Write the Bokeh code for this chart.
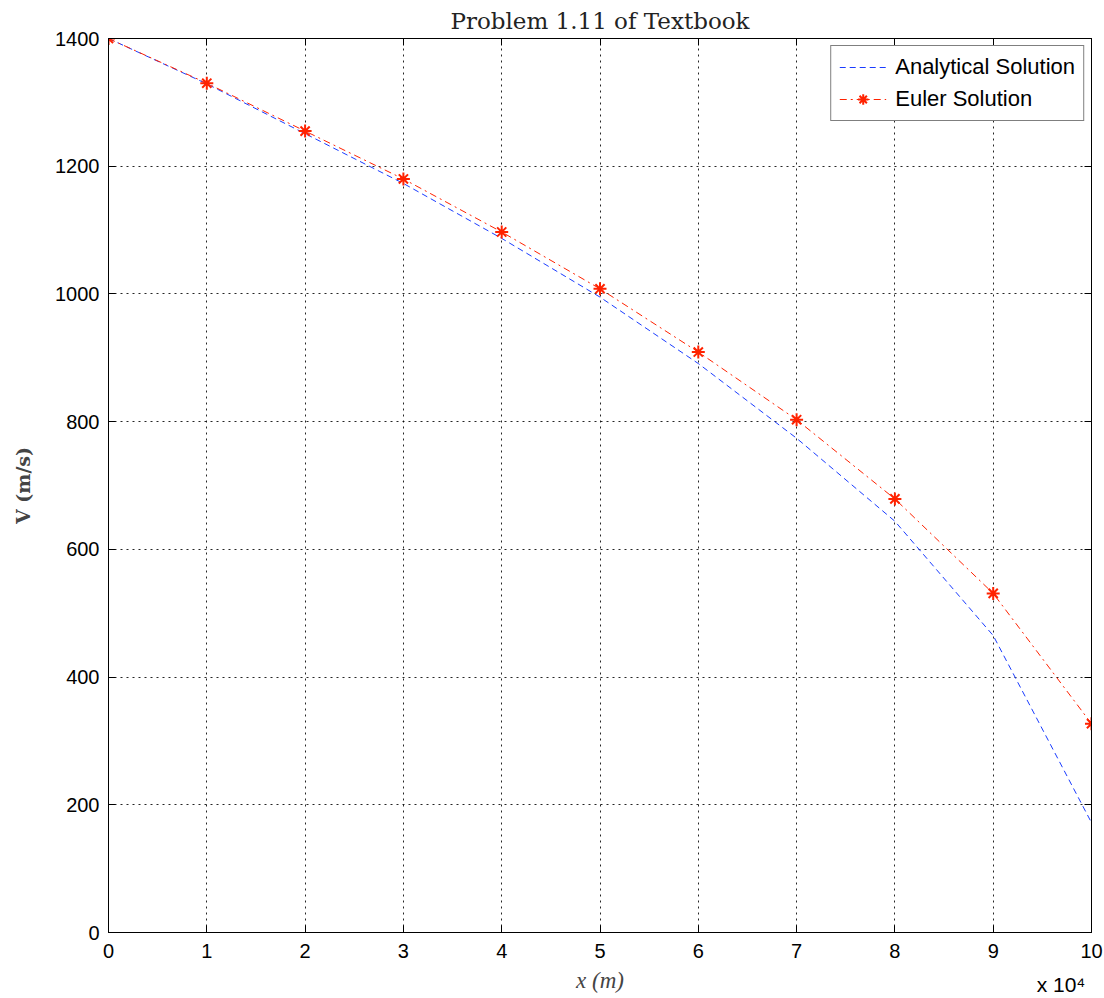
from bokeh.plotting import figure
from bokeh.models import (LinearAxis, Legend, LegendItem, FixedTicker,
                          CustomJSTickFormatter, Range1d)
from bokeh.embed import file_html
from bokeh.resources import INLINE

# ---- data ----
x_m = [0, 10000, 20000, 30000, 40000, 50000, 60000, 70000, 80000, 90000, 100000]
v_analytical = [1400, 1329, 1251, 1173, 1087, 995, 891, 774, 644, 465, 172]
v_euler = [1400, 1330, 1255, 1180, 1097, 1008, 909, 803, 679, 531, 327]
x_ticks = [0, 10000, 20000, 30000, 40000, 50000, 60000, 70000, 80000, 90000, 100000]
y_ticks = [0, 200, 400, 600, 800, 1000, 1200, 1400]
multiplier_text = "x 10\u2074"
multiplier_at = [96900]

TICK_FONT = "Liberation Sans"
SERIF = "DejaVu Serif"

p = figure(frame_width=983, frame_height=894,
           x_range=Range1d(0, 100000), y_range=Range1d(0, 1400),
           output_backend="svg", toolbar_location=None,
           min_border_left=108, min_border_right=12, min_border_top=38,
           min_border_bottom=66,
           title="Problem 1.11 of Textbook")
p.background_fill_color = "white"
p.border_fill_color = "white"
p.outline_line_color = "black"
p.outline_line_width = 1

p.title.align = "center"
p.title.text_font = SERIF
p.title.text_font_size = "23px"
p.title.text_font_style = "normal"
p.title.text_color = "#222222"

fmt = CustomJSTickFormatter(code="return (tick/1e4).toFixed(0);")

def style_axis(ax, show_labels=True):
    ax.major_tick_in = 7
    ax.major_tick_out = 0
    ax.minor_tick_line_color = None
    ax.axis_line_color = "black"
    ax.major_tick_line_color = "black"
    ax.major_label_text_font = TICK_FONT
    if show_labels:
        ax.major_label_text_font_size = "20px"
        ax.major_label_text_color = "black"
    else:
        ax.major_label_text_font_size = "1px"
        ax.major_label_text_color = None
        ax.major_label_standoff = 0

p.xaxis.ticker = FixedTicker(ticks=x_ticks)
p.xaxis.formatter = fmt
p.yaxis.ticker = FixedTicker(ticks=y_ticks)
style_axis(p.xaxis[0])
style_axis(p.yaxis[0])
p.xaxis.major_label_standoff = 11
p.yaxis.major_label_standoff = 9

p.yaxis.axis_label = "V (m/s)"
p.yaxis.axis_label_text_font = SERIF
p.yaxis.axis_label_text_font_style = "bold"
p.yaxis.axis_label_text_font_size = "19px"
p.yaxis.axis_label_standoff = 18

# second bottom axis: carries the "x 10^4" multiplier and the x label
mult_ax = LinearAxis(ticker=FixedTicker(ticks=multiplier_at),
                     major_label_overrides={multiplier_at[0]: multiplier_text})
mult_ax.axis_line_color = None
mult_ax.major_tick_line_color = None
mult_ax.minor_tick_line_color = None
mult_ax.major_tick_in = 0
mult_ax.major_tick_out = 0
mult_ax.major_label_standoff = 12
mult_ax.major_label_text_font = TICK_FONT
mult_ax.major_label_text_font_size = "21px"
mult_ax.major_label_text_color = "black"
mult_ax.axis_label = "x (m)"
mult_ax.axis_label_text_font = "Liberation Serif"
mult_ax.axis_label_text_font_style = "italic"
mult_ax.axis_label_text_font_size = "23px"
mult_ax.axis_label_standoff = -31
p.add_layout(mult_ax, "below")

top_ax = LinearAxis(ticker=FixedTicker(ticks=x_ticks))
style_axis(top_ax, show_labels=False)
p.add_layout(top_ax, "above")
right_ax = LinearAxis(ticker=FixedTicker(ticks=y_ticks))
style_axis(right_ax, show_labels=False)
p.add_layout(right_ax, "right")

p.xgrid.ticker = FixedTicker(ticks=x_ticks)
p.ygrid.ticker = FixedTicker(ticks=y_ticks)
for g in (p.xgrid[0], p.ygrid[0]):
    g.grid_line_color = "black"
    g.grid_line_dash = "2 4"
    g.grid_line_width = 1
    g.grid_line_alpha = 0.85

blue = p.line(x_m, v_analytical, line_color="#1a3cff", line_width=1,
              line_dash="6 4")
red = p.line(x_m, v_euler, line_color="#ff2200", line_width=1,
             line_dash="7 4 2 4")
stars = p.scatter(x_m, v_euler, marker="asterisk", size=13,
                  line_color="#ff2200", line_width=2)

legend = Legend(items=[
    LegendItem(label="Analytical Solution", renderers=[blue]),
    LegendItem(label="Euler Solution", renderers=[red, stars]),
], location="top_right")
legend.label_text_font = TICK_FONT
legend.label_text_font_size = "22px"
legend.label_text_color = "black"
legend.border_line_color = "black"
legend.border_line_width = 1
legend.background_fill_color = "white"
legend.background_fill_alpha = 1
legend.glyph_width = 47
legend.glyph_height = 26
legend.label_height = 26
legend.label_standoff = 9
legend.spacing = 6
legend.padding = 8
legend.margin = 7
p.add_layout(legend)

open("out.html", "w").write(file_html(p, INLINE))
